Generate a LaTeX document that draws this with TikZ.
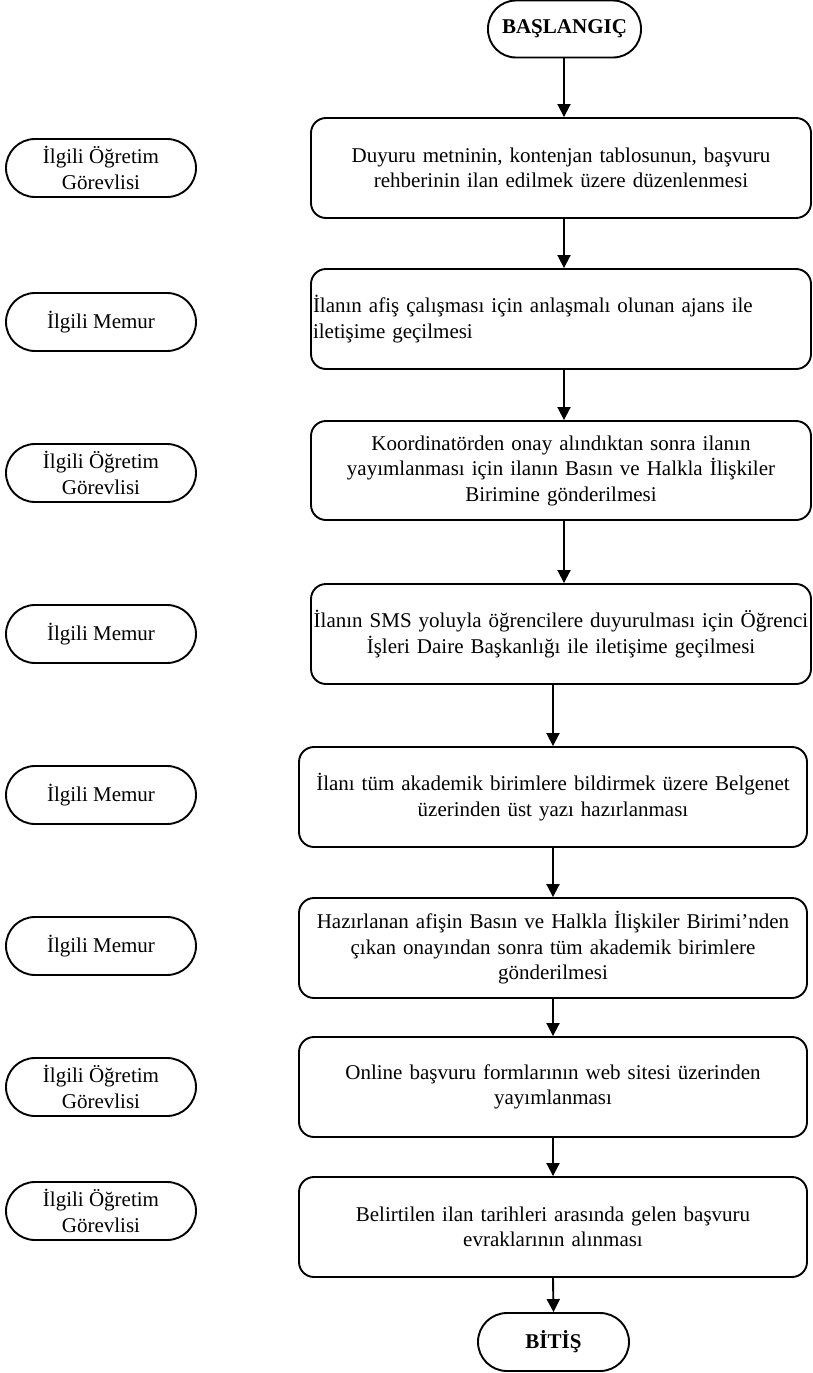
\documentclass[tikz,border=0pt]{standalone}
\usepackage{fontspec}
\setmainfont{Liberation Serif}
\usetikzlibrary{arrows.meta}
\begin{document}
\begin{tikzpicture}[x=1pt,y=-1pt,
  every node/.style={font=\fontsize{21}{25.5}\selectfont},
  stepbox/.style={draw,line width=1.9pt,rounded corners=15pt,minimum height=100pt,
    text width=496pt,align=center,inner xsep=2pt,inner ysep=0pt},
  leftbox/.style={stepbox,align=left},
  termbox/.style={draw,line width=1.9pt,rounded corners=28pt,minimum height=57pt,
    font=\fontsize{21}{25}\selectfont\bfseries,inner sep=0pt},
  rolebox/.style={draw,line width=1.9pt,rounded corners=29pt,minimum width=190pt,
    minimum height=58pt,align=center,inner sep=0pt},
  arr/.style={line width=1.9pt,-{Triangle[width=13pt,length=13pt]}}]
\fill[white] (0,0) rectangle (812,1373);
\useasboundingbox (0,0) rectangle (812,1373);

% terminals
\node[termbox,minimum width=153pt] (start) at (564.5,29) {BAŞLANGIÇ};
\node[termbox,minimum width=151pt,minimum height=58pt,rounded corners=29pt] (end) at (553.5,1342) {BİTİŞ};

% process boxes
\node[stepbox] (b1) at (561,168) {Duyuru metninin, kontenjan tablosunun, başvuru\\rehberinin ilan edilmek üzere düzenlenmesi};
\node[leftbox] (b2) at (561,319) {İlanın afiş çalışması için anlaşmalı olunan ajans ile\\iletişime geçilmesi\\[5pt]};
\node[stepbox,minimum height=99pt] (b3) at (561,470.5) {Koordinatörden onay alındıktan sonra ilanın\\yayımlanması için ilanın Basın ve Halkla İlişkiler\\Birimine gönderilmesi};
\node[stepbox] (b4) at (561,634) {\mbox{İlanın SMS yoluyla öğrencilere duyurulması için Öğrenci}\\İşleri Daire Başkanlığı ile iletişime geçilmesi};
\node[stepbox,text width=504pt] (b5) at (553,797) {İlanı tüm akademik birimlere bildirmek üzere Belgenet\\üzerinden üst yazı hazırlanması};
\node[stepbox,text width=504pt] (b6) at (553,948) {Hazırlanan afişin Basın ve Halkla İlişkiler Birimi’nden\\çıkan onayından sonra tüm akademik birimlere\\gönderilmesi};
\node[stepbox,text width=504pt] (b7) at (553,1087) {Online başvuru formlarının web sitesi üzerinden\\yayımlanması};
\node[stepbox,text width=504pt] (b8) at (553,1227) {Belirtilen ilan tarihleri arasında gelen başvuru\\evraklarının alınması};

% role boxes
\node[rolebox] (r1) at (101,168) {İlgili Öğretim\\Görevlisi};
\node[rolebox] (r2) at (101,322) {İlgili Memur};
\node[rolebox] (r3) at (101,473) {İlgili Öğretim\\Görevlisi};
\node[rolebox] (r4) at (101,634) {İlgili Memur};
\node[rolebox] (r5) at (101,795) {İlgili Memur};
\node[rolebox] (r6) at (101,946) {İlgili Memur};
\node[rolebox] (r7) at (101,1087) {İlgili Öğretim\\Görevlisi};
\node[rolebox] (r8) at (101,1211) {İlgili Öğretim\\Görevlisi};

% connectors
\coordinate (colA) at (564,0);
\draw[arr] (start.south -| colA) -- (b1.north -| colA);
\draw[arr] (b1.south -| colA) -- (b2.north -| colA);
\draw[arr] (b2.south -| colA) -- (b3.north -| colA);
\draw[arr] (b3.south -| colA) -- (b4.north -| colA);
\draw[arr] (b4.south -| b5.north) -- (b5.north);
\draw[arr] (b5.south) -- (b6.north);
\draw[arr] (b6.south) -- (b7.north);
\draw[arr] (b7.south) -- (b8.north);
\draw[arr] (b8.south) -- (end.north);
\end{tikzpicture}
\end{document}
